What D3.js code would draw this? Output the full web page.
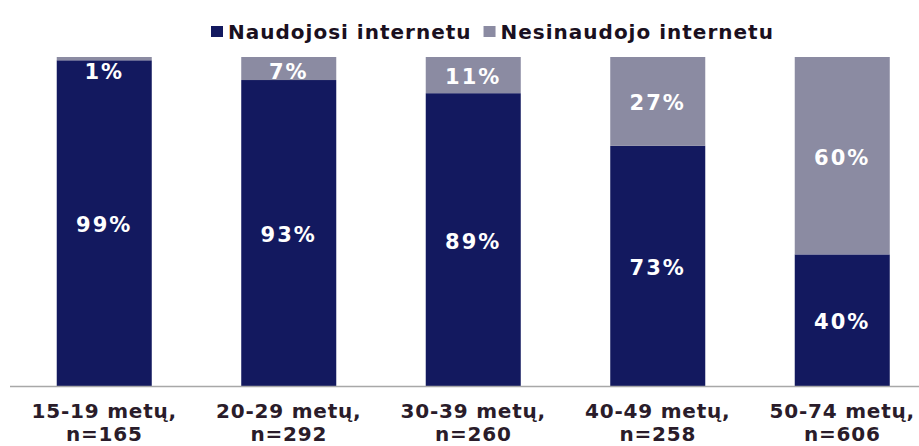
<!DOCTYPE html>
<html>
<head>
<meta charset="utf-8">
<script src="https://cdn.jsdelivr.net/npm/d3@7"></script>
<style>
  body { margin: 0; background: #fff; }
  text { font-family: "DejaVu Sans", Verdana, sans-serif; font-weight: bold; }
</style>
</head>
<body>
<script>
// duomenys
const categories = ["15-19 metų,|n=165", "20-29 metų,|n=292", "30-39 metų,|n=260", "40-49 metų,|n=258", "50-74 metų,|n=606"];
const naudojosi = [99, 93, 89, 73, 40];
const nesinaudojo = [1, 7, 11, 27, 60];
const seriesNames = ["Naudojosi internetu", "Nesinaudojo internetu"];
const colors = ["#13195f", "#8b8ba2"];

const width = 919, height = 446;
const margin = { top: 57, bottom: 60, left: 12 };

const svg = d3.select("body").append("svg")
    .attr("width", width)
    .attr("height", height);

const x = d3.scaleBand()
    .domain(categories)
    .range([margin.left, margin.left + 922.5])
    .paddingInner(0.485)
    .paddingOuter(0.2425);

const y = d3.scaleLinear()
    .domain([0, 100])
    .range([height - margin.bottom, margin.top]);

const rows = categories.map((c, i) => ({ cat: c, a: naudojosi[i], b: nesinaudojo[i] }));
const stack = d3.stack().keys(["a", "b"])(rows);

// stulpeliai
svg.append("g").selectAll("g")
    .data(stack)
    .enter().append("g")
    .attr("fill", (d, i) => colors[i])
    .selectAll("rect")
    .data(d => d)
    .enter().append("rect")
    .attr("x", d => x(d.data.cat))
    .attr("y", d => y(d[1]))
    .attr("width", x.bandwidth())
    .attr("height", d => y(d[0]) - y(d[1]));

// reikšmių etiketės
svg.append("g").selectAll("g")
    .data(stack)
    .enter().append("g")
    .selectAll("text")
    .data(d => d.map(v => ({ v, key: d.key })))
    .enter().append("text")
    .attr("x", d => x(d.v.data.cat) + x.bandwidth() / 2)
    .attr("y", d => Math.max((y(d.v[0]) + y(d.v[1])) / 2 + 9, y(100) + 22))
    .attr("text-anchor", "middle")
    .attr("fill", "#fff")
    .style("font-size", "21px")
    .style("letter-spacing", "2px")
    .text(d => (d.v[1] - d.v[0]) + "%");

// ašis
svg.append("line")
    .attr("x1", 10).attr("x2", width)
    .attr("y1", y(0) + 0.5).attr("y2", y(0) + 0.5)
    .attr("stroke", "#a8a8a8")
    .attr("stroke-width", 1.5);

const xAxis = svg.append("g")
    .selectAll("text")
    .data(categories)
    .enter().append("text")
    .attr("x", d => x(d) + x.bandwidth() / 2)
    .attr("y", 418)
    .attr("text-anchor", "middle")
    .attr("fill", "#2a1c2a")
    .style("font-size", "20px")
    .style("letter-spacing", "0.8px");
xAxis.each(function(d) {
    const parts = d.split("|");
    const t = d3.select(this);
    parts.forEach((p, i) => {
        t.append("tspan")
            .attr("x", x(d) + x.bandwidth() / 2)
            .attr("dy", i === 0 ? 0 : 23)
            .text(p);
    });
});

// legenda
const legend = svg.append("g").attr("transform", "translate(211,39)");
let lx = 0;
seriesNames.forEach((name, i) => {
    legend.append("rect")
        .attr("x", lx).attr("y", -13)
        .attr("width", 12).attr("height", 11)
        .attr("fill", colors[i]);
    const t = legend.append("text")
        .attr("x", lx + 17)
        .attr("y", 0)
        .attr("fill", "#1a1020")
        .style("font-size", "20px")
        .style("letter-spacing", "1px")
        .text(name);
    lx += 17 + t.node().getComputedTextLength() + 12;
});
</script>
</body>
</html>
